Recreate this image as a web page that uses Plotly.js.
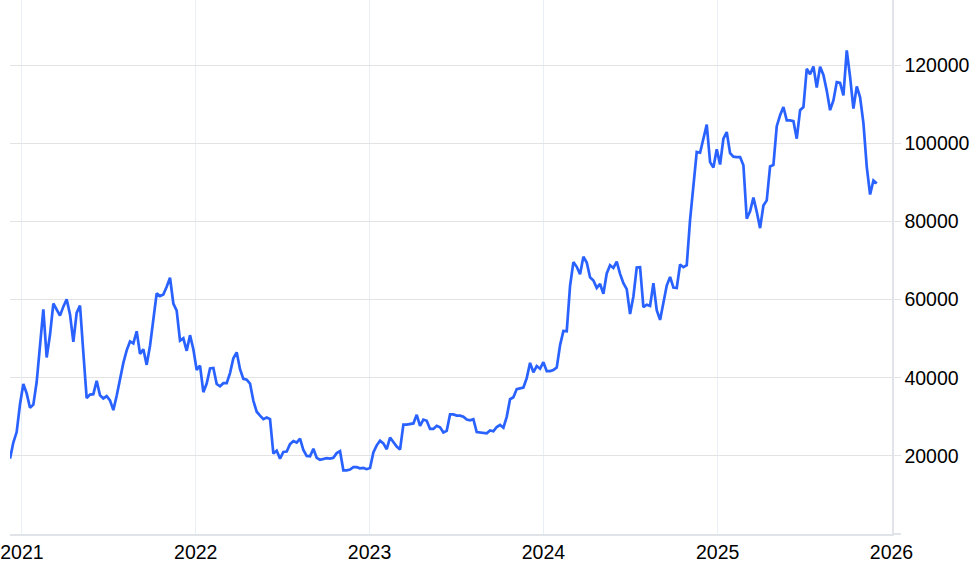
<!DOCTYPE html>
<html>
<head>
<meta charset="utf-8">
<script src="https://cdn.plot.ly/plotly-3.0.1.min.js"></script>
<style>
  html, body { margin: 0; padding: 0; background: #ffffff; }
  #chart { width: 975px; height: 580px; }
</style>
</head>
<body>
<div id="chart"></div>
<script>
// Weekly series, one value per week (weeks starting on Monday)
var firstWeek = '2020-12-07';
var values2020 = [19300, 23400, 26100, 33200];
var values2021 = [38400, 36000, 32300, 33100, 38900, 48600, 57500, 45200, 51000, 59000,
  57500, 55900, 58200, 60100, 56200, 49200, 56600, 58500, 46400, 34800,
  35700, 35800, 39200, 35500, 34700, 35300, 34200, 31700, 35400, 39900,
  43800, 47000, 49300, 48800, 51900, 46100, 47300, 43300, 48200, 54900,
  61600, 60900, 61300, 63300, 65600, 59000, 57200, 49500, 50100, 46900,
  50900, 47300];
var values2022 = [42000, 43100, 36300, 38500, 42400, 42500, 38400, 37800, 38600, 38600,
  41200, 45000, 46500, 42200, 39700, 39500, 38500, 34100, 31300, 30300,
  29400, 29800, 29400, 20600, 21300, 19300, 21000, 21100, 23000, 23800,
  23400, 24400, 21500, 20000, 19900, 21800, 19500, 19000, 19300, 19400,
  19300, 19500, 20700, 21200, 16300, 16300, 16500, 17100, 17100, 16800,
  16900, 16600];
var values2023 = [16900, 20900, 22700, 23900, 23200, 21700, 24700, 23500, 22400, 21600,
  28000, 28000, 28200, 28300, 30500, 27700, 29300, 29000, 26900, 26900,
  27700, 27300, 26000, 26400, 30600, 30600, 30300, 30300, 30000, 29300,
  29100, 29400, 26100, 26000, 25900, 25800, 26500, 26300, 27400, 27900,
  27200, 30000, 34500, 35000, 37100, 37400, 37500, 39900, 43800, 41400,
  43000, 42300];
var values2024 = [44000, 41700, 41700, 42000, 42600, 48300, 52000, 51900, 63500, 69600,
  68400, 66500, 71000, 69500, 65700, 64900, 63000, 64000, 61500, 66700,
  68800, 68100, 69700, 66600, 64200, 62700, 56300, 60800, 68200, 68300,
  58100, 58700, 58400, 64200, 57300, 54800, 59500, 63600, 65800, 63100,
  63000, 69000, 68300, 68800, 80400, 89900, 97800, 97600, 101200, 104800,
  95200, 93800, 98500];
var values2025 = [94600, 101200, 102900, 97500, 96600, 96500, 96500, 94400, 80700, 82600,
  86100, 82500, 78300, 84100, 85400, 94100, 94500, 104400, 107200, 109300,
  105900, 105900, 105700, 101200, 108500, 109300, 119100, 117700, 119700, 114300,
  119600, 117500, 113500, 108500, 111000, 115700, 115500, 112300, 123800, 117000,
  108900, 114600, 111800, 105200, 94000, 86900, 90500, 89700];

var yTickValues = [0, 20000, 40000, 60000, 80000, 100000, 120000];
var yTickLabels = ['', '20000', '40000', '60000', '80000', '100000', '120000'];

var values = [].concat(values2020, values2021, values2022, values2023, values2024, values2025);

// one date per weekly value
var dates = [];
var start = new Date(firstWeek + 'T00:00:00Z');
for (var i = 0; i < values.length; i++) {
  var d = new Date(start.getTime() + i * 7 * 86400000);
  dates.push(d.toISOString().slice(0, 10));
}

var trace = {
  x: dates,
  y: values,
  type: 'scatter',
  mode: 'lines',
  line: { color: '#2962ff', width: 2.7 },
  hoverinfo: 'x+y'
};

var fontFamily = '"Liberation Sans", Arial, Helvetica, sans-serif';

var layout = {
  width: 975,
  height: 580,
  margin: { l: 10, r: 83, t: 0, b: 46, pad: 0 },
  paper_bgcolor: '#ffffff',
  plot_bgcolor: '#ffffff',
  showlegend: false,
  font: { family: fontFamily, size: 19.5, color: '#000000' },
  xaxis: {
    type: 'date',
    range: ['2020-12-07', '2026-01-02'],
    dtick: 'M12',
    tick0: '2021-01-01',
    tickformat: '%Y',
    showgrid: true,
    gridcolor: '#e8eff7',
    gridwidth: 1,
    showline: true,
    linecolor: '#e0e3e8',
    linewidth: 1.5,
    ticks: '',
    zeroline: false,
    tickfont: { family: fontFamily, size: 19.5, color: '#000000' }
  },
  yaxis: {
    side: 'right',
    range: [0, 136700],
    tickmode: 'array',
    tickvals: yTickValues,
    ticktext: yTickLabels,
    showgrid: true,
    gridcolor: '#e3e3e6',
    gridwidth: 1.2,
    showline: true,
    linecolor: '#e0e3e8',
    linewidth: 1.5,
    ticks: 'outside',
    ticklen: 7,
    tickwidth: 1.2,
    tickcolor: '#e0e3e8',
    zeroline: false,
    tickfont: { family: fontFamily, size: 19.5, color: '#000000' }
  }
};

Plotly.newPlot('chart', [trace], layout, { displayModeBar: false, staticPlot: true });
</script>
</body>
</html>
